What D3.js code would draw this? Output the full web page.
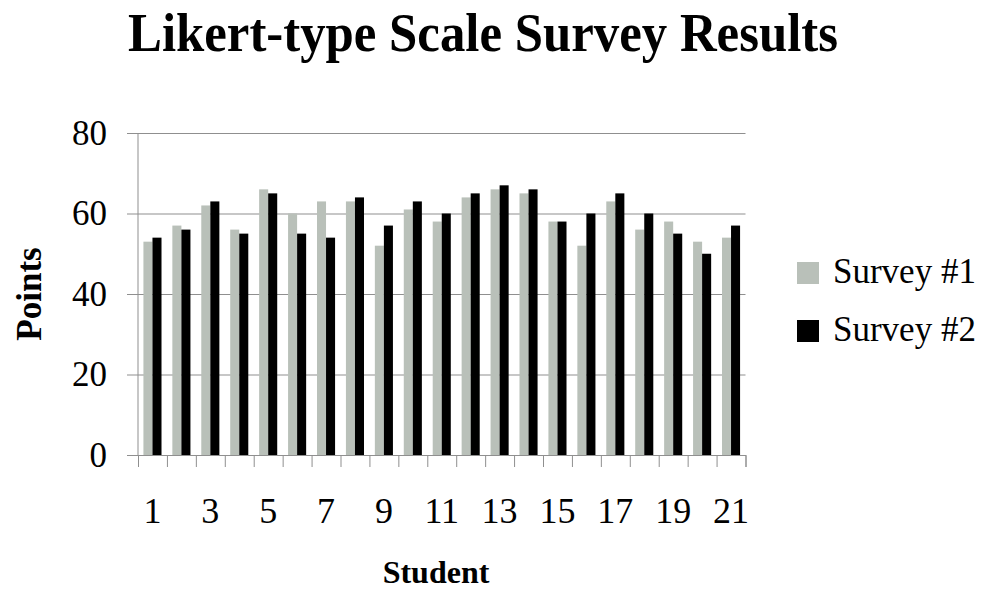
<!DOCTYPE html>
<html>
<head>
<meta charset="utf-8">
<script src="https://cdn.jsdelivr.net/npm/d3@7"></script>
<style>
  html, body { margin: 0; padding: 0; background: #fff; }
  svg { display: block; font-family: "Liberation Serif", "Times New Roman", serif; }
</style>
</head>
<body>
<svg id="chart" width="987" height="594"></svg>
<script>
// Survey scores per student
const students = d3.range(1, 22);
const survey1 = [53, 57, 62, 56, 66, 60, 63, 63, 52, 61, 58, 64, 66, 65, 58, 52, 63, 56, 58, 53, 54];
const survey2 = [54, 56, 63, 55, 65, 55, 54, 64, 57, 63, 60, 65, 67, 66, 58, 60, 65, 60, 55, 50, 57];
const seriesNames = ["Survey #1", "Survey #2"];
const seriesColors = ["#b9c0b9", "#000000"];
const yTicks = [0, 20, 40, 60, 80];
const xTickLabels = [1, 3, 5, 7, 9, 11, 13, 15, 17, 19, 21];

const svg = d3.select("#chart");
const serif = "Liberation Serif, Times New Roman, serif";
const plotLeft = 138, plotRight = 745.5, plotTop = 133, plotBottom = 455;
const gridColor = "#8f8f8f";

const x = d3.scaleBand().domain(students).range([plotLeft, plotRight]).padding(0);
const xs = d3.scaleBand().domain([0, 1]).range([0, x.bandwidth()]).paddingInner(0).paddingOuter(0.6);
const y = d3.scaleLinear().domain([0, 80]).range([plotBottom, plotTop]);
const xEdge = d3.scaleLinear().domain([0, students.length]).range([plotLeft, plotRight]);

// Title
svg.append("text")
  .attr("x", 128).attr("y", 51)
  .attr("font-size", 54).attr("font-weight", "bold")
  .attr("textLength", 710).attr("lengthAdjust", "spacingAndGlyphs")
  .text("Likert-type Scale Survey Results");

// Y axis with horizontal gridlines
const yAxis = svg.append("g")
  .attr("transform", `translate(${plotLeft},0)`)
  .call(d3.axisLeft(y).tickValues(yTicks).tickSize(11).tickPadding(20))
  .attr("font-family", serif);
yAxis.select(".domain").remove();
yAxis.selectAll(".tick line").attr("x1", plotRight - plotLeft).attr("stroke", gridColor);
yAxis.selectAll(".tick text").attr("font-size", 35).attr("fill", "#000");
svg.append("line")
  .attr("x1", plotLeft).attr("x2", plotLeft).attr("y1", y(80)).attr("y2", plotBottom)
  .attr("stroke", gridColor);

// Bars
const groups = svg.append("g").selectAll("g")
  .data(students.map((s, i) => ({ s, vals: [survey1[i], survey2[i]] })))
  .join("g")
  .attr("transform", d => `translate(${x(d.s)},0)`);
groups.selectAll("rect")
  .data(d => d.vals.map((v, k) => ({ v, k })))
  .join("rect")
  .attr("x", d => xs(d.k))
  .attr("width", xs.bandwidth())
  .attr("y", d => y(d.v))
  .attr("height", d => y(0) - y(d.v))
  .attr("fill", d => seriesColors[d.k]);

// X axis: boundary ticks
const xTicksG = svg.append("g")
  .attr("transform", `translate(0,${plotBottom})`)
  .call(d3.axisBottom(xEdge).tickValues(d3.range(0, students.length + 1)).tickSize(12).tickFormat(""));
xTicksG.select(".domain").attr("stroke", gridColor);
xTicksG.selectAll(".tick line").attr("stroke", gridColor);

// X axis: labels for odd students
const xLab = svg.append("g")
  .attr("transform", `translate(0,${plotBottom})`)
  .call(d3.axisBottom(x).tickValues(xTickLabels).tickSize(0))
  .attr("font-family", serif);
xLab.select(".domain").remove();
xLab.selectAll(".tick text").attr("font-size", 36).attr("fill", "#000").attr("y", 68).attr("dy", 0);

// Axis titles
svg.append("text")
  .attr("transform", "translate(41,294) rotate(-90)")
  .attr("text-anchor", "middle")
  .attr("font-size", 35).attr("font-weight", "bold")
  .text("Points");
svg.append("text")
  .attr("x", 436).attr("y", 583)
  .attr("text-anchor", "middle")
  .attr("font-size", 32).attr("font-weight", "bold")
  .text("Student");

// Legend
const legend = svg.append("g").selectAll("g")
  .data(seriesNames)
  .join("g")
  .attr("transform", (d, i) => `translate(797,${262 + i * 58})`);
legend.append("rect")
  .attr("width", 22).attr("height", 22)
  .attr("fill", (d, i) => seriesColors[i]);
legend.append("text")
  .attr("x", 36).attr("y", 21)
  .attr("font-size", 35)
  .text(d => d);
</script>
</body>
</html>
